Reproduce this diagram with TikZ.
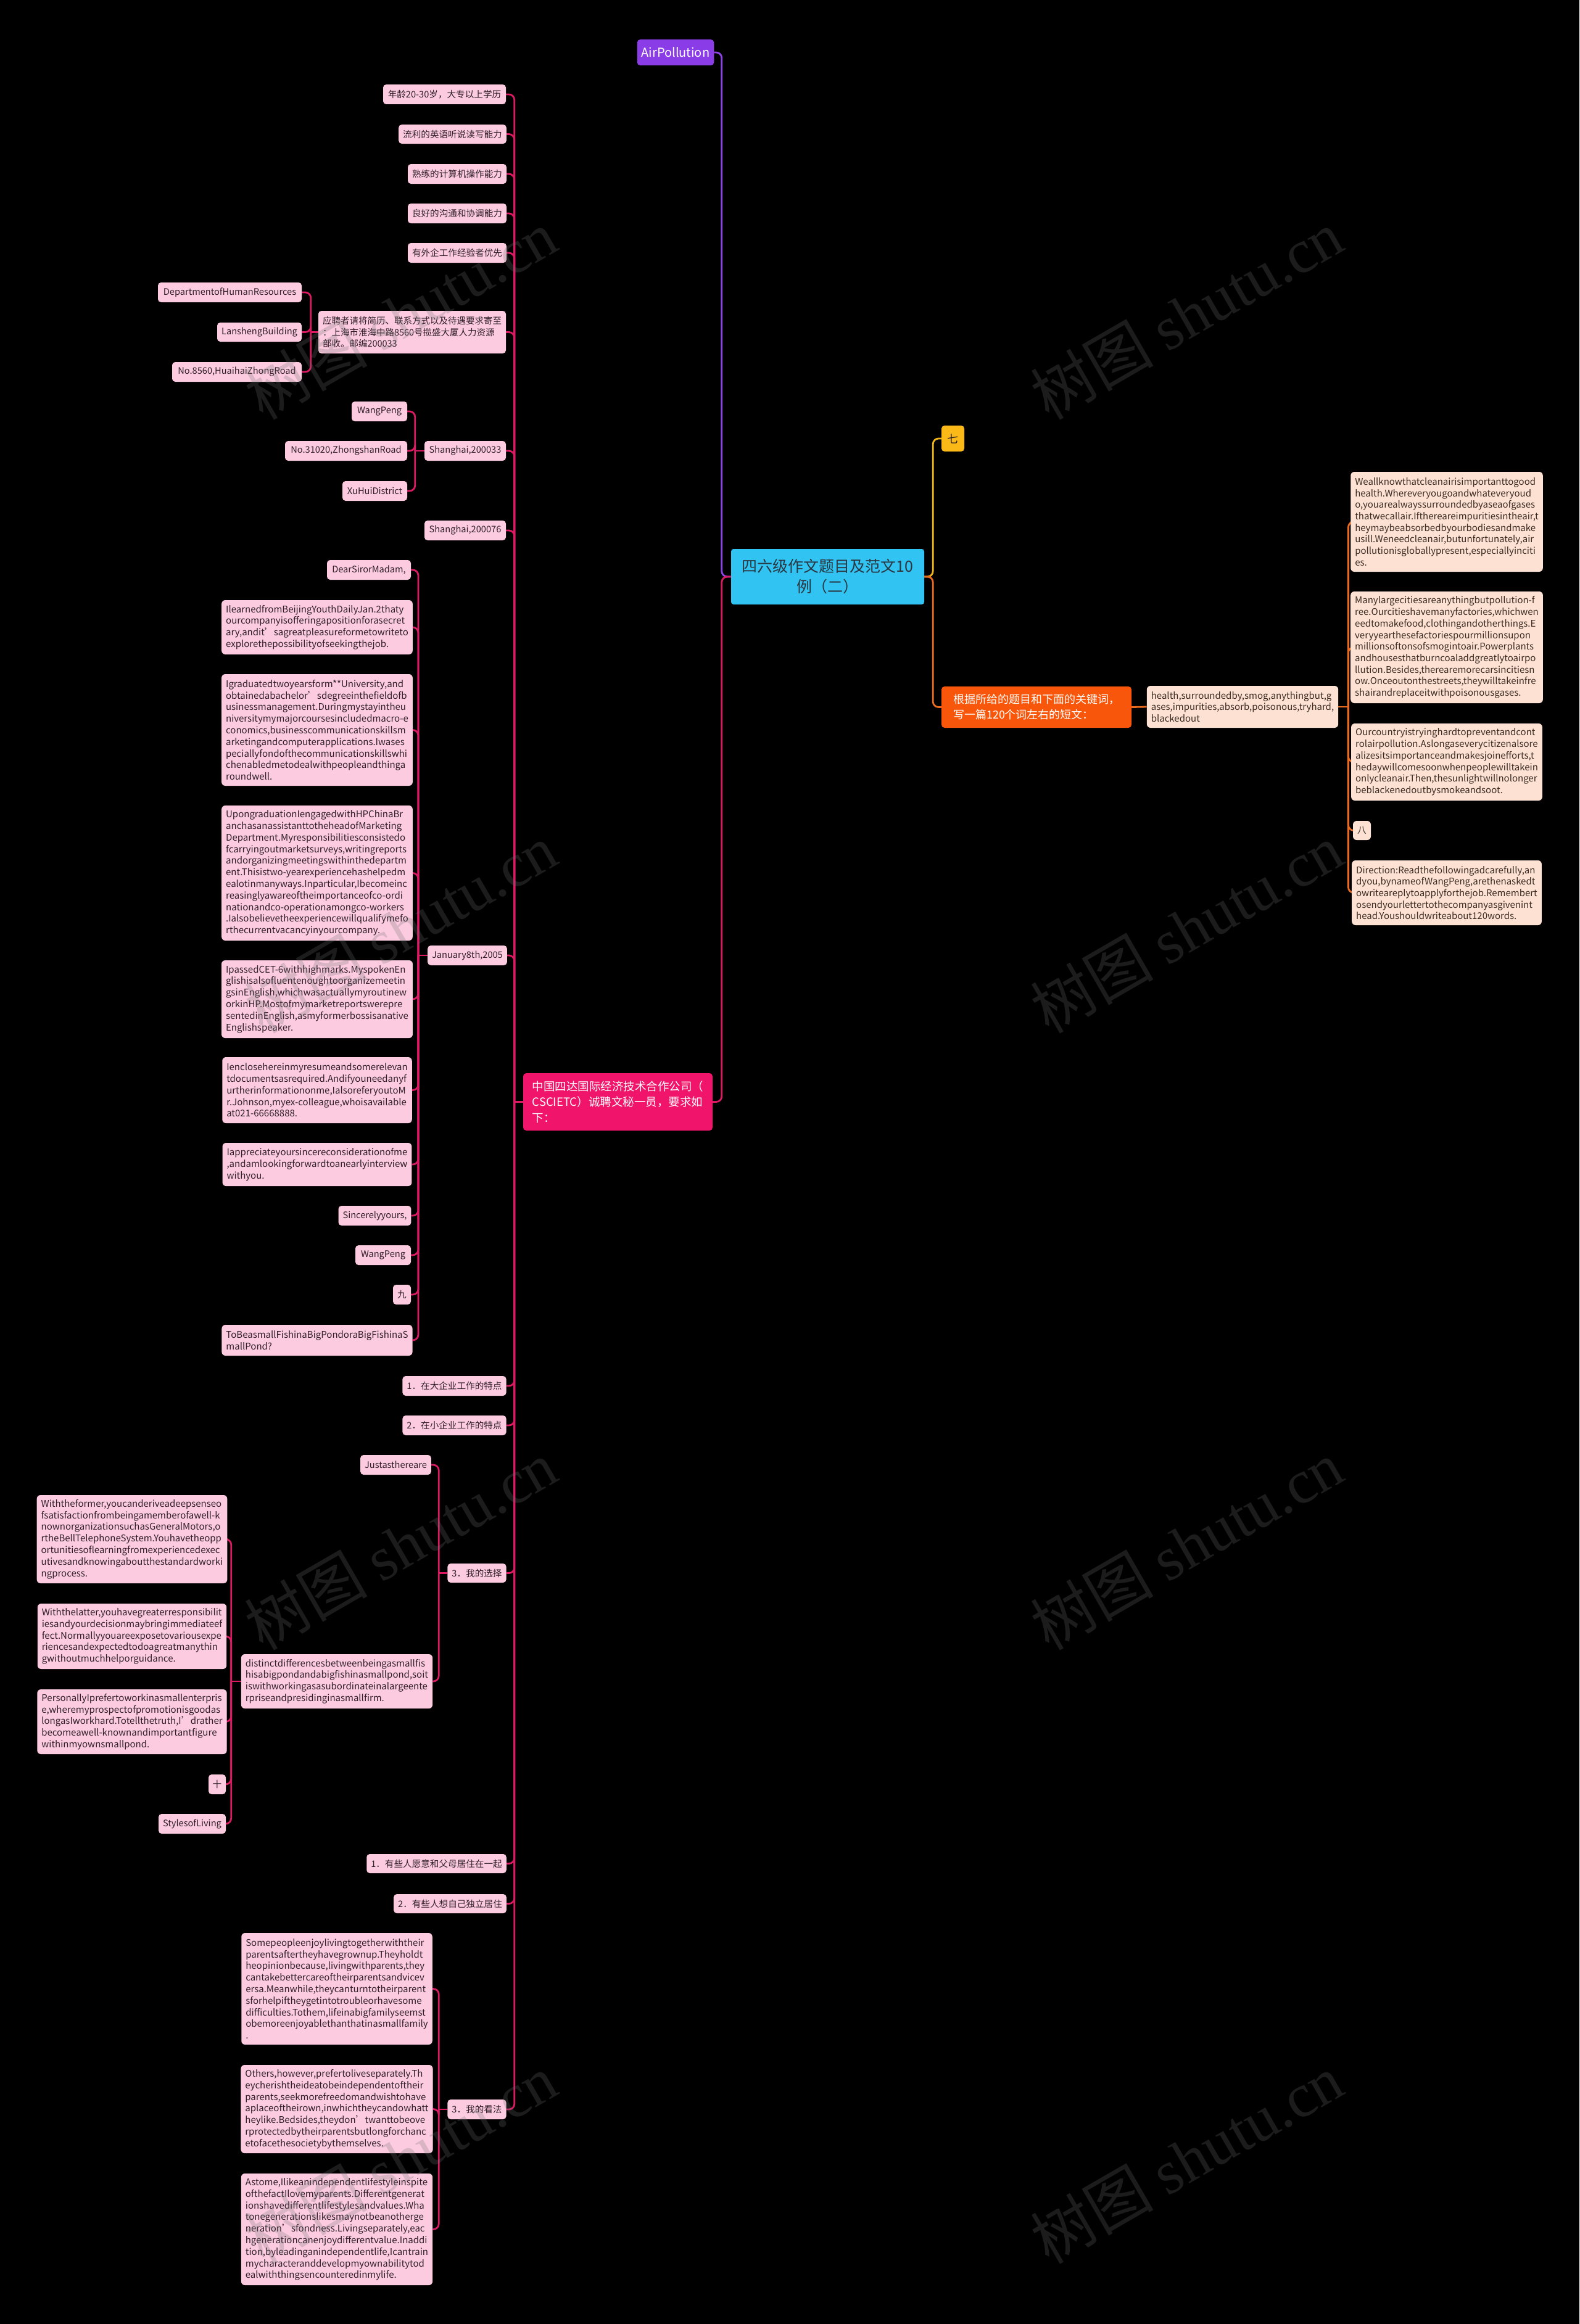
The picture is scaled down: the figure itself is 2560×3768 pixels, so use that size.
\documentclass[tikz,border=0pt]{standalone}
\usepackage{fontspec}
\setmainfont{Noto Sans CJK SC}
\newfontfamily\wmlat{Liberation Serif}
\usetikzlibrary{calc}
\hyphenpenalty=10000 \exhyphenpenalty=10000
\definecolor{pkf}{HTML}{FDCBE0}
\definecolor{pkt}{HTML}{2E1F26}
\definecolor{pkl}{HTML}{DC1A63}
\definecolor{pcf}{HTML}{FDE2D3}
\definecolor{pct}{HTML}{3A2A22}
\definecolor{orl}{HTML}{EA6A1F}
\definecolor{orf}{HTML}{F8560A}
\definecolor{yel}{HTML}{F2B517}
\definecolor{yef}{HTML}{FBB917}
\definecolor{pul}{HTML}{8E44E8}
\definecolor{puf}{HTML}{8A3CE6}
\definecolor{mgf}{HTML}{F0146A}
\definecolor{rtf}{HTML}{31C3F2}
\definecolor{rtt}{HTML}{2B3640}
\definecolor{wmc}{HTML}{707070}
\newcommand\fsz[2]{\fontsize{#1pt}{#2pt}\selectfont}
\newcommand\bx[7]{%
  \pgfmathsetmacro\bxw{#5-#3}%
  \pgfmathsetmacro\bxh{#6-#4}%
  \pgfmathsetmacro\bxcx{(#3+#5)/2}%
  \pgfmathsetmacro\bxcy{(#4+#6)/2}%
  \node[#1, minimum width=\bxw pt, minimum height=\bxh pt] (#2) at (\bxcx,\bxcy) {#7};%
}
\pgfdeclarelayer{bgl}\pgfdeclarelayer{edges}
\pgfsetlayers{bgl,edges,main}
\tikzset{
  boxbase/.style={inner xsep=7pt, inner ysep=0pt, rounded corners=5pt},
  lbl/.style={boxbase, fill=pkf, text=pkt, font=\fsz{14.6}{17}, align=center},
  para/.style={boxbase, fill=pkf, text=pkt, font=\fsz{15}{18.8}, align=left, rounded corners=6pt},
  rpara/.style={boxbase, fill=pcf, text=pct, font=\fsz{15}{18.7}, align=left, rounded corners=6pt},
  pl/.style={draw=pkl, line width=2.8pt, rounded corners=9pt},
  ol/.style={draw=orl, line width=2.8pt, rounded corners=9pt},
  yl/.style={draw=yel, line width=2.8pt, rounded corners=9pt},
  vl/.style={draw=pul, line width=2.8pt, rounded corners=9pt},
  wm/.style={rotate=30, text=wmc, text opacity=0.25, font=\fsz{100}{100}}
}
\begin{document}
\begin{tikzpicture}[x=1pt,y=-1pt]
\begin{pgfonlayer}{bgl}
\fill[black] (0,0) rectangle (2560,3768);
\end{pgfonlayer}
\useasboundingbox (0,0) rectangle (2560,3768);

% root and main branches
\bx{boxbase, fill=rtf, text=rtt, font=\fsz{25}{33}, align=center, rounded corners=4pt}{root}{1185}{890}{1498}{980}{四六级作文题目及范文10\\例（二）}
\bx{boxbase, fill=puf, text=white, font=\fsz{20}{24}, align=center}{air}{1034}{64}{1156}{106}{AirPollution}
\bx{boxbase, fill=mgf, text=white, font=\fsz{18.5}{25.5}, align=left}{M}{848}{1740}{1155}{1833}{中国四达国际经济技术合作公司（\\CSCIETC）诚聘文秘一员，要求如\\下：}
\bx{boxbase, fill=yef, text=pkt, font=\fsz{18}{22}, align=center, inner xsep=2pt}{qi}{1526}{690}{1563}{732}{七}
\bx{boxbase, fill=orf, text=white, font=\fsz{18}{25}, align=left}{G}{1526}{1113}{1834}{1180}{根据所给的题目和下面的关键词，\\写一篇120个词左右的短文：}
\bx{rpara, font=\fsz{15}{18.3}}{H}{1862}{1112}{2166}{1180}{health,surroundedby,smog,anythingbut,g\\ases,impurities,absorb,poisonous,tryhard,\\blackedout}

% right paragraphs
\bx{rpara}{H1}{2193}{765}{2497}{927}{Weallknowthatcleanairisimportanttogood\\health.Whereveryougoandwhateveryoud\\o,youarealwayssurroundedbyaseaofgases\\thatwecallair.Ifthereareimpuritiesintheair,t\\heymaybeabsorbedbyourbodiesandmake\\usill.Weneedcleanair,butunfortunately,air\\pollutionisgloballypresent,especiallyinciti\\es.}
\bx{rpara}{H2}{2193}{959}{2497}{1140}{Manylargecitiesareanythingbutpollution-f\\ree.Ourcitieshavemanyfactories,whichwen\\eedtomakefood,clothingandotherthings.E\\veryyearthesefactoriespourmillionsupon\\millionsoftonsofsmogintoair.Powerplants\\andhousesthatburncoaladdgreatlytoairpo\\llution.Besides,therearemorecarsincitiesn\\ow.Onceoutonthestreets,theywilltakeinfre\\shairandreplaceitwithpoisonousgases.}
\bx{rpara}{H3}{2193}{1173}{2497}{1298}{Ourcountryistryinghardtopreventandcont\\rolairpollution.Aslongaseverycitizenalsore\\alizesitsimportanceandmakesjoinefforts,t\\hedaywillcomesoonwhenpeoplewilltakein\\onlycleanair.Then,thesunlightwillnolonger\\beblackenedoutbysmokeandsoot.}
\bx{rpara, align=center, inner xsep=2pt, font=\fsz{14.6}{17}}{H4}{2193}{1331}{2222}{1362}{八}
\bx{rpara}{H5}{2193}{1395}{2497}{1500}{Direction:Readthefollowingadcarefully,an\\dyou,bynameofWangPeng,arethenaskedt\\owriteareplytoapplyforthejob.Remembert\\osendyourlettertothecompanyasgivenint\\head.Youshouldwriteabout120words.}

% main pink children
\bx{lbl}{L1}{621}{137}{820}{169}{年龄20-30岁，大专以上学历}
\bx{lbl}{L2}{647}{202}{820}{233}{流利的英语听说读写能力}
\bx{lbl}{L3}{662}{266}{820}{298}{熟练的计算机操作能力}
\bx{lbl}{L4}{662}{330}{820}{362}{良好的沟通和协调能力}
\bx{lbl}{L5}{662}{394}{820}{426}{有外企工作经验者优先}
\bx{lbl, align=left, font=\fsz{14.5}{18.3}}{Y}{516}{504}{820}{573}{应聘者请将简历、联系方式以及待遇要求寄至\\：上海市淮海中路8560号揽盛大厦人力资源\\部收。邮编200033}
\bx{lbl}{D1}{256}{458}{489}{490}{DepartmentofHumanResources}
\bx{lbl}{D2}{352}{523}{489}{554}{LanshengBuilding}
\bx{lbl}{D3}{279}{587}{489}{619}{No.8560,HuaihaiZhongRoad}
\bx{lbl}{S1}{688}{715}{820}{747}{Shanghai,200033}
\bx{lbl}{W1}{570}{651}{660}{683}{WangPeng}
\bx{lbl}{W2}{462}{715}{660}{747}{No.31020,ZhongshanRoad}
\bx{lbl}{W3}{555}{780}{660}{812}{XuHuiDistrict}
\bx{lbl}{S2}{688}{844}{820}{876}{Shanghai,200076}
\bx{lbl}{J}{694}{1533}{821}{1565}{January8th,2005}

% letter
\bx{lbl}{P1}{530}{908}{666}{940}{DearSirorMadam,}
\bx{para}{P2}{362}{973}{666}{1061}{IlearnedfromBeijingYouthDailyJan.2thaty\\ourcompanyisofferingapositionforasecret\\ary,andit’sagreatpleasureformetowriteto\\explorethepossibilityofseekingthejob.}
\bx{para}{P3}{362}{1093}{666}{1274}{Igraduatedtwoyearsform**University,and\\obtainedabachelor’sdegreeinthefieldofb\\usinessmanagement.Duringmystayintheu\\niversitymymajorcoursesincludedmacro-e\\conomics,businesscommunicationskillsm\\arketingandcomputerapplications.Iwases\\peciallyfondofthecommunicationskillswhi\\chenabledmetodealwithpeopleandthinga\\roundwell.}
\bx{para}{P4}{362}{1306}{666}{1525}{UpongraduationIengagedwithHPChinaBr\\anchasanassistanttotheheadofMarketing\\Department.Myresponsibilitiesconsistedo\\fcarryingoutmarketsurveys,writingreports\\andorganizingmeetingswithinthedepartm\\ent.Thisistwo-yearexperiencehashelpedm\\ealotinmanyways.Inparticular,Ibecomeinc\\reasinglyawareoftheimportanceofco-ordi\\nationandco-operationamongco-workers\\.Ialsobelievetheexperiencewillqualifymefo\\rthecurrentvacancyinyourcompany.}
\bx{para}{P5}{362}{1557}{666}{1683}{IpassedCET-6withhighmarks.MyspokenEn\\glishisalsofluentenoughtoorganizemeetin\\gsinEnglish,whichwasactuallymyroutinew\\orkinHP.Mostofmymarketreportswerepre\\sentedinEnglish,asmyformerbossisanative\\Englishspeaker.}
\bx{para}{P6}{362}{1714}{666}{1821}{Ienclosehereinmyresumeandsomerelevan\\tdocumentsasrequired.Andifyouneedanyf\\urtherinformationonme,IalsoreferyoutoM\\r.Johnson,myex-colleague,whoisavailable\\at021-66668888.}
\bx{para}{P7}{362}{1853}{666}{1923}{Iappreciateyoursincereconsiderationofme\\,andamlookingforwardtoanearlyinterview\\withyou.}
\bx{lbl}{P8}{549}{1955}{666}{1987}{Sincerelyyours,}
\bx{lbl}{P9}{576}{2019}{666}{2051}{WangPeng}
\bx{lbl, inner xsep=2pt}{P10}{637}{2083}{666}{2115}{九}
\bx{para}{P11}{362}{2148}{666}{2198}{ToBeasmallFishinaBigPondoraBigFishinaS\\mallPond?}

% fish part
\bx{lbl}{M1}{653}{2231}{820}{2263}{1．在大企业工作的特点}
\bx{lbl}{M2}{653}{2295}{820}{2327}{2．在小企业工作的特点}
\bx{lbl}{M3}{726}{2535}{820}{2566}{3．我的选择}
\bx{lbl}{Q1}{585}{2359}{698}{2391}{Justasthereare}
\bx{para}{Q2}{394}{2682}{698}{2770}{distinctdifferencesbetweenbeingasmallfis\\hisabigpondandabigfishinasmallpond,soit\\iswithworkingasasubordinateinalargeente\\rpriseandpresidinginasmallfirm.}
\bx{para}{R1}{62}{2424}{366}{2567}{Withtheformer,youcanderiveadeepsenseo\\fsatisfactionfrombeingamemberofawell-k\\nownorganizationsuchasGeneralMotors,o\\rtheBellTelephoneSystem.Youhavetheopp\\ortunitiesoflearningfromexperiencedexec\\utivesandknowingaboutthestandardworki\\ngprocess.}
\bx{para}{R2}{62}{2600}{366}{2706}{Withthelatter,youhavegreaterresponsibilit\\iesandyourdecisionmaybringimmediateef\\fect.Normallyyouareexposetovariousexpe\\riencesandexpectedtodoagreatmanythin\\gwithoutmuchhelporguidance.}
\bx{para}{R3}{62}{2739}{366}{2844}{PersonallyIprefertoworkinasmallenterpris\\e,wheremyprospectofpromotionisgoodas\\longasIworkhard.Totellthetruth,I’drather\\becomeawell-knownandimportantfigure\\withinmyownsmallpond.}
\bx{lbl, inner xsep=2pt}{R4}{338}{2877}{366}{2909}{十}
\bx{lbl}{R5}{257}{2941}{366}{2973}{StylesofLiving}

% living part
\bx{lbl}{M4}{595}{3006}{820}{3037}{1．有些人愿意和父母居住在一起}
\bx{lbl}{M5}{639}{3071}{820}{3102}{2．有些人想自己独立居住}
\bx{lbl}{M6}{726}{3404}{820}{3436}{3．我的看法}
\bx{para}{T1}{394}{3134}{698}{3315}{Somepeopleenjoylivingtogetherwiththeir\\parentsaftertheyhavegrownup.Theyholdt\\heopinionbecause,livingwithparents,they\\cantakebettercareoftheirparentsandvicev\\ersa.Meanwhile,theycanturntotheirparent\\sforhelpiftheygetintotroubleorhavesome\\difficulties.Tothem,lifeinabigfamilyseemst\\obemoreenjoyablethanthatinasmallfamily\\.}
\bx{para}{T2}{394}{3348}{698}{3491}{Others,however,prefertoliveseparately.Th\\eycherishtheideatobeindependentoftheir\\parents,seekmorefreedomandwishtohave\\aplaceoftheirown,inwhichtheycandowhatt\\heylike.Bedsides,theydon’twanttobeove\\rprotectedbytheirparentsbutlongforchanc\\etofacethesocietybythemselves.}
\bx{para}{T3}{394}{3524}{698}{3705}{Astome,Ilikeanindependentlifestyleinspite\\ofthefactIlovemyparents.Differentgenerat\\ionshavedifferentlifestylesandvalues.Wha\\tonegenerationslikesmaynotbeanotherge\\neration’sfondness.Livingseparately,eac\\hgenerationcanenjoydifferentvalue.Inaddi\\tion,byleadinganindependentlife,Icantrain\\mycharacteranddevelopmyownabilitytod\\ealwiththingsencounteredinmylife.}

% connectors
\begin{pgfonlayer}{edges}
\draw[vl] (root.west) -- ++(-15,0) coordinate (rj) |- (air.east);
\draw[pl] (root.west) -- (rj) |- (M.east);
\draw[yl] (root.east) -- ++(14,0) coordinate (rk) |- (qi.west);
\draw[ol] (root.east) -- (rk) |- (G.west);
\draw[ol] (G.east) -- (H.west);
\draw[ol] (H.east) -- ++(16,0) coordinate (hj);
\foreach \c in {H1,H2,H3,H4,H5} {\draw[ol] (hj) |- (\c.west);}
\draw[pl] (M.west) -- ++(-14,0) coordinate (mj);
\foreach \c in {L1,L2,L3,L4,L5,Y,S1,S2,J,M1,M2,M3,M4,M5,M6} {\draw[pl] (mj) |- (\c.east);}
\draw[pl] (Y.west) -- ++(-12,0) coordinate (yj);
\foreach \c in {D1,D2,D3} {\draw[pl] (yj) |- (\c.east);}
\draw[pl] (S1.west) -- ++(-15,0) coordinate (sj);
\foreach \c in {W1,W2,W3} {\draw[pl] (sj) |- (\c.east);}
\draw[pl] (J.west) -- ++(-15,0) coordinate (jj);
\foreach \c in {P1,P2,P3,P4,P5,P6,P7,P8,P9,P10,P11} {\draw[pl] (jj) |- (\c.east);}
\draw[pl] (M3.west) -- ++(-14,0) coordinate (m3j);
\foreach \c in {Q1,Q2} {\draw[pl] (m3j) |- (\c.east);}
\draw[pl] (Q2.west) -- ++(-16,0) coordinate (qj);
\foreach \c in {R1,R2,R3,R4,R5} {\draw[pl] (qj) |- (\c.east);}
\draw[pl] (M6.west) -- ++(-14,0) coordinate (m6j);
\foreach \c in {T1,T2,T3} {\draw[pl] (m6j) |- (\c.east);}
\end{pgfonlayer}

% watermarks
\node[wm] (wm1) at (649,510) {树图 {\wmlat shutu.cn}};
\node[wm] (wm2) at (1923,510) {树图 {\wmlat shutu.cn}};
\node[wm] (wm3) at (649,1505) {树图 {\wmlat shutu.cn}};
\node[wm] (wm4) at (1923,1505) {树图 {\wmlat shutu.cn}};
\node[wm] (wm5) at (649,2505) {树图 {\wmlat shutu.cn}};
\node[wm] (wm6) at (1923,2505) {树图 {\wmlat shutu.cn}};
\node[wm] (wm7) at (649,3500) {树图 {\wmlat shutu.cn}};
\node[wm] (wm8) at (1923,3500) {树图 {\wmlat shutu.cn}};
\end{tikzpicture}
\end{document}
